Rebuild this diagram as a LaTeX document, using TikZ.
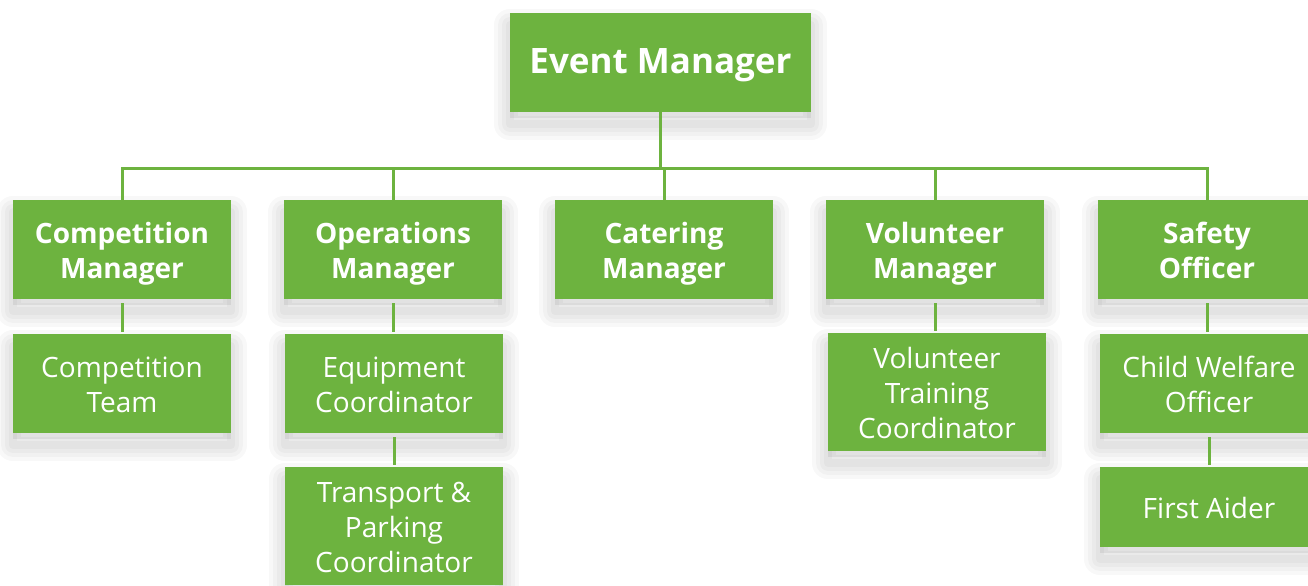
\documentclass[tikz,border=0pt]{standalone}
\usepackage{fontspec}
\setmainfont{Open Sans}
\usetikzlibrary{shadows}
\definecolor{leaf}{HTML}{6DB33F}
\newcommand\topstrut{\rule{0pt}{15pt}}
\newcommand\botstrut{\rule[-4pt]{0pt}{0pt}}

\tikzset{
  halo/.style={general shadow={draw=black, line join=round,
    line width=#1, opacity=.028, shadow xshift=0pt, shadow yshift=-6pt}},
  box/.style={fill=leaf, text=white, align=center, inner sep=0pt,
    minimum width=109pt, minimum height=49.5pt,
    font=\fontsize{14}{17.5}\selectfont,
    general shadow={fill=black, opacity=.06, shadow xshift=0pt, shadow yshift=-3pt},
    halo=16pt, halo=12pt, halo=8pt, halo=4pt},
  head/.style={box, font=\bfseries\fontsize{14}{17.5}\selectfont},
  link/.style={draw=leaf, line width=1.5pt},
}

\begin{document}
\begin{tikzpicture}[x=0.5pt, y=-0.5pt]
  \useasboundingbox[fill=white] (0,0) rectangle (1308,585);

  % Le responsable
  \node[head, minimum width=150.5pt, font=\bfseries\fontsize{17.5}{21}\selectfont] (em) at (660.5,62.5) {\topstrut Event Manager\botstrut};

  % Les managers
  \foreach \n/\x/\t in {cm/122/Competition\\Manager, om/393/Operations\\Manager, km/664/Catering\\Manager, vm/935/Volunteer\\Manager, so/1207/Safety\\Officer} {
    \node[head] (\n) at (\x,249.5) {\topstrut\t\botstrut};
  }

  % Les equipes
  \node[box] (ct) at (122,383.5) {\topstrut Competition\\Team\botstrut};
  \node[box] (ec) at (394,383.5) {\topstrut Equipment\\Coordinator\botstrut};
  \node[box, minimum height=59pt] (tp) at (394,526) {\topstrut Transport \&\\Parking\\Coordinator\botstrut};
  \node[box, minimum height=59pt] (vt) at (937,392) {\topstrut Volunteer\\Training\\Coordinator\botstrut};
  \node[box] (cw) at (1209,383.5) {\topstrut Child Welfare\\Officer\botstrut};
  \node[box, minimum height=40pt] (fa) at (1209,507) {\topstrut First Aider\botstrut};

  % Les liens
  \foreach \n in {cm, om, km, vm, so} {
    \draw[link] (em.south) -- ++(0,56) -| (\n.north);
  }
  \foreach \a/\b in {cm/ct, om/ec, ec/tp, vm/vt, so/cw, cw/fa} {
    \draw[link, shorten <=2pt, shorten >=1pt] (\a.south) -- (\a.south |- \b.north);
  }
\end{tikzpicture}
\end{document}
